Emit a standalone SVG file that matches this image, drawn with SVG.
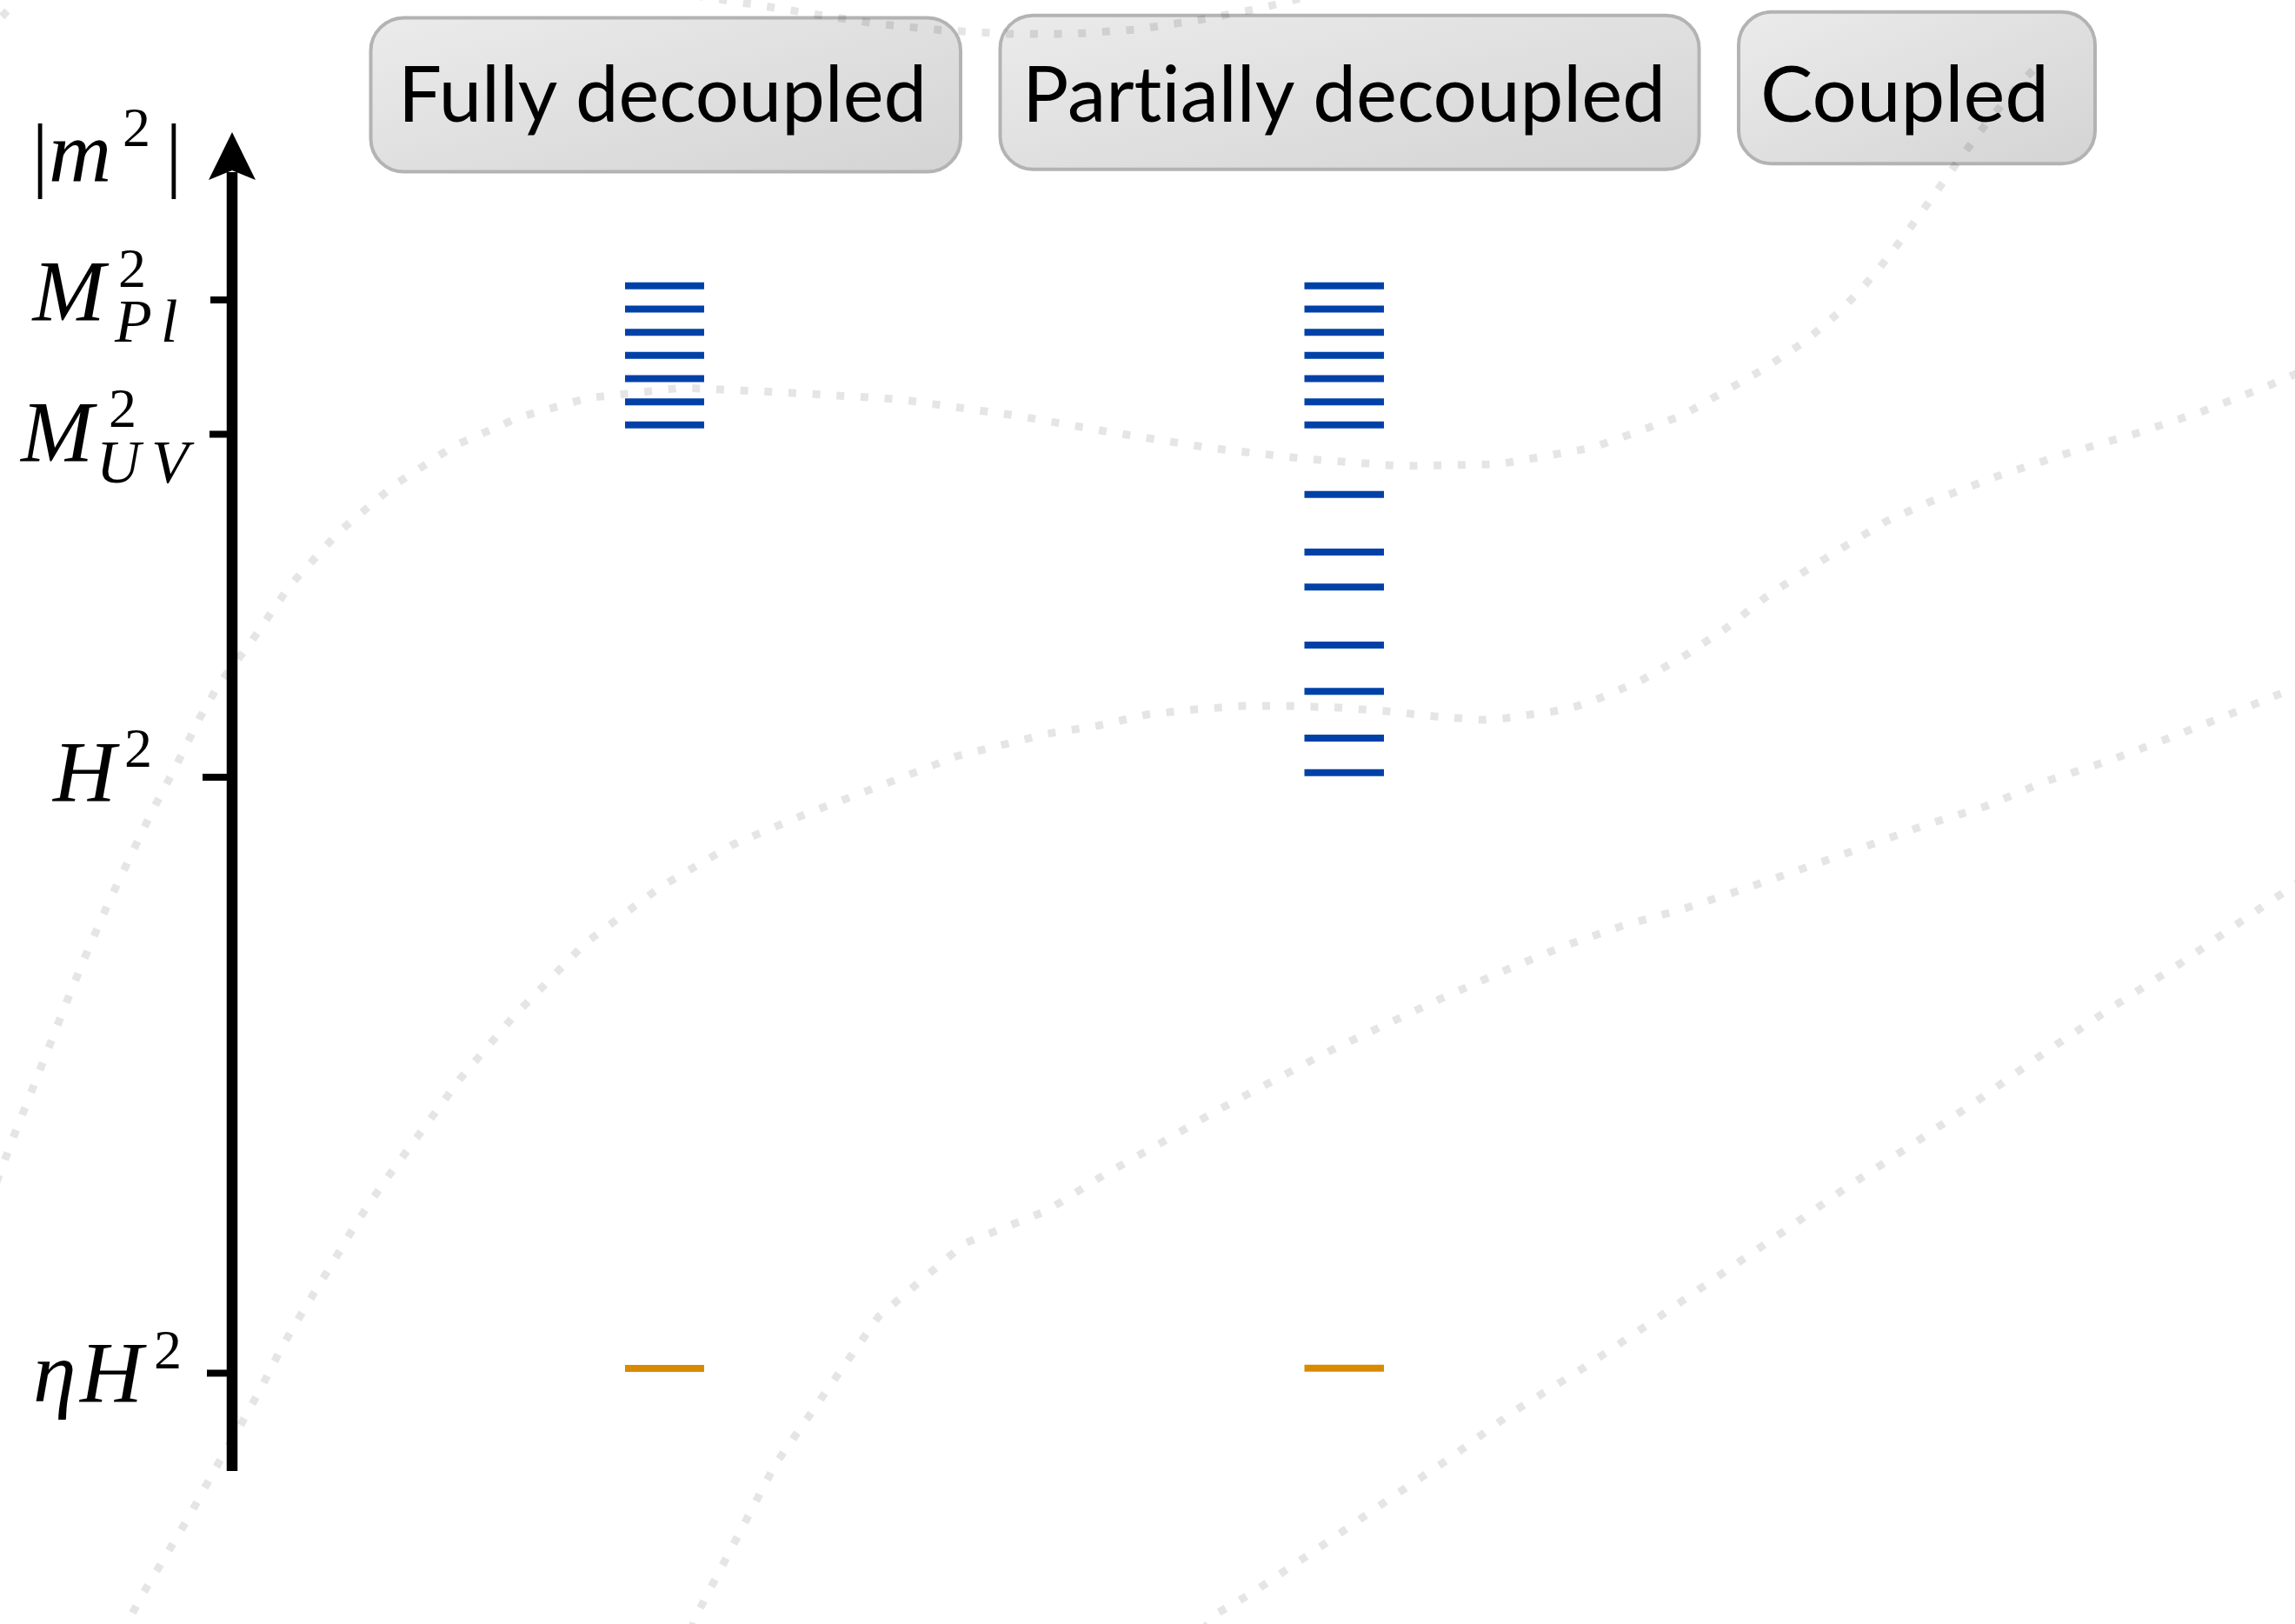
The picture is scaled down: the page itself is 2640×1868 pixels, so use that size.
<svg xmlns="http://www.w3.org/2000/svg" width="2640" height="1868" viewBox="0 0 2640 1868">
<defs>
<linearGradient id="boxgrad" x1="0" y1="0" x2="1" y2="1">
<stop offset="0" stop-color="#ebebeb"/>
<stop offset="1" stop-color="#d4d4d4"/>
</linearGradient>
<style>
.box{fill:url(#boxgrad);stroke:#b3b3b3;stroke-width:4}
.hdr{font-family:Lato,"Open Sans","Liberation Sans",sans-serif;font-size:90px;fill:#000;font-variant-ligatures:none;font-feature-settings:"liga" 0,"clig" 0}
.math{font-family:"Liberation Serif","DejaVu Serif",serif;fill:#000}
.it{font-style:italic}
.big{font-size:100px}
.sup{font-size:64px;font-style:normal}
.sub{font-size:70px;font-style:italic}
.tick{stroke:#000;stroke-width:8}
.blue{stroke:#0041a8;stroke-width:8}
.orange{stroke:#d98a00;stroke-width:8}
.dots{fill:none;stroke:#000;stroke-opacity:0.1;stroke-width:9;stroke-dasharray:9 18.7;stroke-linejoin:round}
</style>
</defs>
<rect x="0" y="0" width="2640" height="1868" fill="#fff"/>

<g id="header-fully-decoupled">
<rect class="box" x="426.5" y="20.5" width="678.5" height="177" rx="38"/>
<text class="hdr" x="458" y="140" textLength="608" lengthAdjust="spacingAndGlyphs">Fully decoupled</text>
</g>
<g id="header-partially-decoupled">
<rect class="box" x="1150.5" y="17.7" width="804" height="177" rx="38"/>
<text class="hdr" x="1176" y="140" textLength="740" lengthAdjust="spacingAndGlyphs">Partially decoupled</text>
</g>
<g id="header-coupled">
<rect class="box" x="2000" y="13.7" width="410" height="174.5" rx="38"/>
<text class="hdr" x="2025" y="140" textLength="332" lengthAdjust="spacingAndGlyphs">Coupled</text>
</g>

<g id="axis">
<line x1="267" y1="1692" x2="267" y2="198" stroke="#000" stroke-width="12.5"/>
<polygon points="267,152 294,207 267,196 240,207" fill="#000"/>
<line class="tick" x1="242" y1="345" x2="267" y2="345"/>
<line class="tick" x1="241" y1="499.5" x2="267" y2="499.5"/>
<line class="tick" x1="233" y1="894" x2="267" y2="894"/>
<line class="tick" x1="238" y1="1579.5" x2="267" y2="1579.5"/>
</g>

<g id="label-m2">
<text class="math big"><tspan x="36.5" y="209" font-size="96">|</tspan><tspan class="it" x="56" y="208">m</tspan><tspan class="sup" x="141" y="168">2</tspan><tspan x="190.3" y="209" font-size="96">|</tspan></text>
</g>
<g id="label-MPl">
<text class="math big"><tspan class="it" x="37.5" y="368">M</tspan><tspan class="sup" x="136" y="330">2</tspan><tspan class="sub" x="132" y="393">P</tspan><tspan class="sub" x="185" y="393">l</tspan></text>
</g>
<g id="label-MUV">
<text class="math big"><tspan class="it" x="24" y="530">M</tspan><tspan class="sup" x="125" y="491">2</tspan><tspan class="sub" x="111" y="555">U</tspan><tspan class="sub" x="174" y="555">V</tspan></text>
</g>
<g id="label-H2">
<text class="math big"><tspan class="it" x="61" y="921">H</tspan><tspan class="sup" x="143" y="882">2</tspan></text>
</g>
<g id="label-etaH2">
<text class="math big"><tspan class="it" x="38" y="1612">η</tspan><tspan class="it" x="92" y="1612">H</tspan><tspan class="sup" x="177" y="1573.5">2</tspan></text>
</g>

<g id="levels-fully-decoupled">
<line class="blue" x1="719" y1="328.7" x2="810" y2="328.7"/>
<line class="blue" x1="719" y1="355.5" x2="810" y2="355.5"/>
<line class="blue" x1="719" y1="382.2" x2="810" y2="382.2"/>
<line class="blue" x1="719" y1="408.7" x2="810" y2="408.7"/>
<line class="blue" x1="719" y1="435.4" x2="810" y2="435.4"/>
<line class="blue" x1="719" y1="462.2" x2="810" y2="462.2"/>
<line class="blue" x1="719" y1="488.8" x2="810" y2="488.8"/>
<line class="orange" x1="719" y1="1574" x2="810" y2="1574"/>
</g>
<g id="levels-partially-decoupled">
<line class="blue" x1="1500.5" y1="328.7" x2="1592" y2="328.7"/>
<line class="blue" x1="1500.5" y1="355.5" x2="1592" y2="355.5"/>
<line class="blue" x1="1500.5" y1="382.2" x2="1592" y2="382.2"/>
<line class="blue" x1="1500.5" y1="408.7" x2="1592" y2="408.7"/>
<line class="blue" x1="1500.5" y1="435.4" x2="1592" y2="435.4"/>
<line class="blue" x1="1500.5" y1="462.2" x2="1592" y2="462.2"/>
<line class="blue" x1="1500.5" y1="488.8" x2="1592" y2="488.8"/>
<line class="blue" x1="1500.5" y1="568.8" x2="1592" y2="568.8"/>
<line class="blue" x1="1500.5" y1="635.1" x2="1592" y2="635.1"/>
<line class="blue" x1="1500.5" y1="675.3" x2="1592" y2="675.3"/>
<line class="blue" x1="1500.5" y1="742.1" x2="1592" y2="742.1"/>
<line class="blue" x1="1500.5" y1="795.2" x2="1592" y2="795.2"/>
<line class="blue" x1="1500.5" y1="849" x2="1592" y2="849"/>
<line class="blue" x1="1500.5" y1="888.8" x2="1592" y2="888.8"/>
<line class="orange" x1="1500.5" y1="1573.7" x2="1592" y2="1573.7"/>
</g>

<g id="background-curves">
<path class="dots" d="M2,19 L10,11"/>
<path class="dots" d="M800,-5 L866.7,5 L939,16.7 L1012,27.7 L1086,35 L1160,39 L1233,39 L1306.5,34 L1379.5,23 L1452,9 L1500,-3"/>
<path class="dots" d="M-4,1360 L13,1314 L34,1261 L56,1205 L78,1149 L101,1093 L125,1038 L150,985 L175,933 L201,884 L229.6,826 L252.6,785.7 L287,741 L333,674 L390,611.6 L453.5,558 L522,513 L597,480 L677,457.6 L786,446 L895,451 L1032,459 L1169,478 L1277,497 L1390,515 L1503,528 L1611,536 L1724,534 L1832,515 L1935,478 L2028,425 L2077,392 L2117,358 L2156,316 L2190,272 L2222,228 L2255,182 L2288,138 L2323,97 L2345,74"/>
<path class="dots" d="M140,1880 L150,1860 L162.6,1836 L191,1789 L220,1740 L245.5,1693 L274,1644 L300,1597 L325,1548 L354,1499 L383,1452 L411,1405 L443,1358 L475,1314.5 L530,1240 L590,1170 L673,1085 L760,1020 L842,972 L930,935 L1010,905 L1100,870 L1204.6,844 L1264,834.5 L1319,822 L1374.5,816 L1429.6,812 L1484.7,812 L1540,814 L1595,818 L1650,824 L1705,828 L1732.6,826 L1760,822 L1788,818 L1815,812 L1843,802 L1889,782 L1939,753.6 L1985,723 L2031,687 L2077,656.6 L2123,628 L2169,600 L2218,578 L2297,548 L2376,522 L2456,499 L2534,473 L2611,443 L2650,426"/>
<path class="dots" d="M795,1875 L800,1860 L892,1684 L1010,1515 L1110,1430 L1204.6,1392.5 L1269,1352 L1333,1316 L1397,1279 L1462,1244.5 L1526,1210.5 L1595,1178 L1659,1148 L1728,1117.5 L1797,1089 L1866,1065 L1934.7,1046 L2008,1022 L2077,998 L2146,973.6 L2215,949 L2284,927.5 L2352.5,899 L2426,875 L2495,849 L2564,822 L2632.6,794 L2650,787"/>
<path class="dots" d="M1384,1875 L1397,1857.5 L1439,1833 L1517,1780.6 L1590,1729.7 L1668,1677 L1742,1623 L1820,1574.4 L1898,1522 L1971,1471.7 L2049.5,1418 L2123,1366.6 L2201,1315.7 L2279,1263 L2352.5,1210.5 L2430.6,1158 L2508.7,1107.8 L2582,1057 L2621.6,1030 L2650,1011"/>
</g>
</svg>
